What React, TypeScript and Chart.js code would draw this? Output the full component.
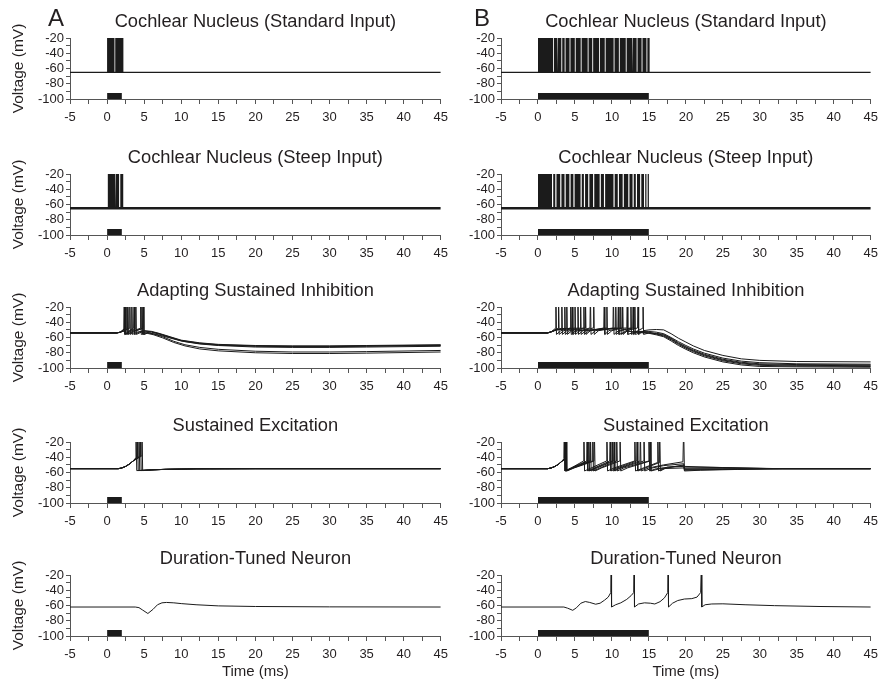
import { useEffect, useRef } from "react";
import { Chart, registerables } from "chart.js";
Chart.register(...registerables);

type Pt = [number, number];

// ---------- axes ----------
const xMin = -5;
const xMax = 45;
const xStep = 2.5;
const xLabelEvery = 5;
const yMin = -100;
const yMax = -20;
const yStep = 10;
const yLabelEvery = 20;

const panelTitles = [
  "Cochlear Nucleus (Standard Input)",
  "Cochlear Nucleus (Steep Input)",
  "Adapting Sustained Inhibition",
  "Sustained Excitation",
  "Duration-Tuned Neuron",
];
const columnLetters = ["A", "B"];
const yAxisTitle = "Voltage (mV)";
const xAxisTitle = "Time (ms)";

// ---------- stimulus ----------
const stimA = [0, 2];
const stimB = [0, 15];
const stimLevel = -92;

// ---------- cochlear nucleus (firing intervals, ms) ----------
const cnRest = -65;
const cnPeak = -20;
const cnStdA: number[][] = [[0, 1.0], [1.1, 2.2]];
const cnStdB: number[][] = [
  [0, 2.05], [2.17, 2.58], [2.7, 3.16], [3.28, 3.61], [3.73, 4.27], [4.39, 4.98],
  [5.1, 5.78], [5.9, 6.72], [6.84, 7.34], [7.46, 8.27], [8.39, 9.03], [9.15, 10.23],
  [10.35, 10.94], [11.06, 11.87], [11.99, 12.72], [12.84, 13.34], [13.46, 14.01],
  [14.13, 14.67], [14.79, 15.1],
];
const cnSteepA: number[][] = [[0.1, 1.08], [1.2, 1.62], [1.78, 2.18]];
const cnSteepB: number[][] = [
  [0, 1.9], [2.06, 2.34], [2.5, 3.01], [3.17, 3.59], [3.75, 4.25], [4.41, 4.79],
  [4.95, 5.76], [5.92, 6.21], [6.37, 6.79], [6.95, 7.45], [7.61, 8.34], [8.5, 8.92],
  [9.08, 10.21], [10.37, 10.79], [10.95, 11.45], [11.61, 12.21], [12.37, 12.79],
  [12.95, 13.23], [13.39, 13.81], [13.97, 14.34], [14.5, 14.67], [14.83, 15.0],
];

// ---------- adapting sustained inhibition ----------
const asiA1: Pt[] = [[-5,-54],[1.3,-54],[1.8,-53],[2.25,-49],[2.31,0],[2.39,-56],[2.9,-52],[3.58,-48],[3.64,0],[3.72,-56],[4.3,-53],[5,-51],[6,-52],[7,-54.5],[8.5,-59],[10,-63.5],[12.5,-67],[15,-69],[20,-70.5],[25,-71],[30,-71],[35,-70.5],[45,-69.5]];
const asiA2: Pt[] = [[-5,-54],[1.3,-54],[1.8,-53],[2.3,-51],[2.61,-48],[2.67,0],[2.75,-56],[3.3,-52],[4.47,-48],[4.53,0],[4.61,-56],[5.2,-53],[6,-53],[7,-55.5],[8.5,-60],[10,-64.5],[12.5,-68],[15,-70],[20,-71.5],[25,-72],[30,-72],[35,-71.5],[45,-70.5]];
const asiA3: Pt[] = [[-5,-54],[1.3,-54],[1.8,-53],[2.4,-51],[3.0,-48],[3.06,0],[3.14,-56],[3.7,-52],[4.83,-48],[4.89,0],[4.97,-56],[5.5,-54],[6.5,-55.5],[7.5,-58],[9,-62],[10.5,-65.5],[12.5,-68.5],[15,-70.5],[20,-72.5],[25,-73],[30,-73],[35,-72.5],[45,-71.5]];
const asiA4: Pt[] = [[-5,-54],[1.3,-54],[1.8,-53],[2.34,-48.5],[2.4,0],[2.48,-56],[3.0,-52],[3.27,-49],[3.33,0],[3.41,-56],[4.0,-53],[5,-51.5],[6,-52.5],[7,-55],[8.5,-59.5],[10,-64],[12.5,-67.5],[15,-69.5],[20,-71],[25,-71.5],[30,-71.5],[35,-71],[45,-70]];
const asiA5: Pt[] = [[-5,-54],[1.3,-54],[1.8,-53],[2.44,-48.5],[2.5,0],[2.58,-56],[3.1,-52],[3.81,-48.5],[3.87,0],[3.95,-56],[4.6,-53],[5.3,-53],[6.3,-55.5],[7.5,-59],[9,-65],[10.5,-69.5],[12.5,-73],[15,-75.5],[20,-78],[25,-79],[30,-79],[35,-78.5],[45,-77]];
const asiA6: Pt[] = [[-5,-54],[1.3,-54],[1.8,-53],[2.4,-51],[2.74,-48.5],[2.8,0],[2.88,-56],[3.5,-52],[4.64,-48.5],[4.7,0],[4.78,-56],[5.4,-54.5],[6.3,-56.5],[7.5,-60.5],[9,-66.5],[10.5,-71],[12.5,-75],[15,-77.5],[20,-80],[25,-81],[30,-81],[35,-80.5],[45,-79]];

const asiB1: Pt[] = [[-5,-54],[1.3,-54],[1.8,-52.5],[2.36,-48],[2.42,0],[2.5,-56],[3.1,-51],[4.36,-47.5],[4.42,0],[4.5,-56],[5.1,-51],[6.36,-47.5],[6.42,0],[6.5,-56],[7.1,-51],[8.9,-47.5],[8.96,0],[9.04,-56],[9.6,-51],[11.12,-47.5],[11.18,0],[11.26,-56],[11.9,-51],[13.47,-47.5],[13.53,0],[13.61,-56],[14.3,-51],[15,-50],[16,-49.5],[17,-50],[18,-55],[19,-61],[20,-66],[21,-71],[22.5,-77],[25,-83.5],[27.5,-88],[30,-90],[35,-91.5],[45,-92]];
const asiB2: Pt[] = [[-5,-54],[1.3,-54],[1.8,-52.5],[2.3,-50],[2.72,-48],[2.78,0],[2.86,-56],[3.5,-51],[4.94,-47.5],[5.0,0],[5.08,-56],[5.7,-51],[7.03,-47.5],[7.09,0],[7.17,-56],[7.8,-51],[10.14,-47.5],[10.2,0],[10.28,-56],[10.9,-51],[12.5,-47.5],[12.56,0],[12.64,-56],[13.3,-52],[15,-52],[16,-53],[17,-55],[18,-60],[19,-65.5],[20,-70.5],[21,-75],[22.5,-80.5],[25,-87],[27.5,-91],[30,-93],[35,-94.5],[45,-95]];
const asiB3: Pt[] = [[-5,-54],[1.3,-54],[1.8,-52.5],[2.4,-50],[3.16,-48],[3.22,0],[3.3,-56],[3.9,-51],[5.34,-47.5],[5.4,0],[5.48,-56],[6.1,-51],[7.47,-47.5],[7.53,0],[7.61,-56],[8.2,-51],[10.45,-47.5],[10.51,0],[10.59,-56],[11.2,-51],[12.81,-47.5],[12.87,0],[12.95,-56],[13.5,-51],[14.14,-48],[14.2,0],[14.28,-56],[15,-54],[16,-54.5],[17,-56],[18,-61],[19,-67],[20,-72],[21,-76.5],[22.5,-82],[25,-88.5],[27.5,-92.5],[30,-94.5],[35,-95.5],[45,-96]];
const asiB4: Pt[] = [[-5,-54],[1.3,-54],[1.8,-52.5],[2.5,-50],[3.56,-48],[3.62,0],[3.7,-56],[4.3,-51],[5.7,-47.5],[5.76,0],[5.84,-56],[6.5,-51],[9.25,-47.5],[9.31,0],[9.39,-56],[10,-51],[11.38,-47.5],[11.44,0],[11.52,-56],[12.1,-51],[13.03,-48],[13.09,0],[13.17,-56],[14,-53],[15,-54],[16,-55],[17,-57],[18,-62],[19,-68],[20,-73],[21,-77.5],[22.5,-83],[25,-89.5],[27.5,-93.5],[30,-95.5],[35,-96.5],[45,-97]];
const asiB5: Pt[] = [[-5,-54],[1.3,-54],[1.8,-52.5],[2.5,-50],[3.83,-48],[3.89,0],[3.97,-56],[4.6,-51],[6.14,-47.5],[6.2,0],[6.28,-56],[6.9,-51],[10.81,-47.5],[10.87,0],[10.95,-56],[12,-52],[15,-53],[16,-55.5],[17,-58],[18,-63],[19,-69],[20,-74],[21,-78.5],[22.5,-84],[25,-90.5],[27.5,-94.5],[30,-96.5],[35,-97.5],[45,-98]];
const asiB6: Pt[] = [[-5,-54],[1.3,-54],[1.8,-52.5],[2.5,-50],[4.58,-48],[4.64,0],[4.72,-56],[5.4,-51],[12.01,-47.5],[12.07,0],[12.15,-56],[13,-53],[15,-54.5],[16,-56.5],[17,-59],[18,-64.5],[19,-70.5],[20,-75.5],[21,-80],[22.5,-85.5],[25,-92],[27.5,-96],[30,-98],[35,-98.5],[45,-99]];

// ---------- sustained excitation ----------
const seA1: Pt[] = [[-5,-55],[1.5,-55],[2,-54],[2.5,-52],[3,-49],[3.5,-45],[3.85,-41],[3.9,0],[4.0,-57.5],[5,-57],[6,-56.5],[8,-55.8],[12,-55.2],[20,-55],[45,-55]];
const seA2: Pt[] = [[-5,-55],[1.5,-55],[2,-54],[2.5,-52],[3,-49],[3.5,-45],[4.05,-40],[4.1,0],[4.2,-57.5],[5,-57],[6,-56.5],[8,-55.8],[12,-55.2],[20,-55],[45,-55]];
const seA3: Pt[] = [[-5,-55],[1.5,-55],[2,-54],[2.5,-52],[3,-49],[3.5,-45],[4.25,-39.5],[4.3,0],[4.4,-57.5],[5.2,-57],[6,-56.5],[8,-55.8],[12,-55.2],[20,-55],[45,-55]];
const seA4: Pt[] = [[-5,-55],[1.5,-55],[2,-54],[2.5,-52],[3,-49],[3.5,-45],[4.45,-39],[4.5,0],[4.6,-57.5],[5.4,-57],[6.2,-56.5],[8,-55.8],[12,-55.2],[20,-55],[45,-55]];
const seA5: Pt[] = [[-5,-55],[1.5,-55],[2,-54],[2.5,-52],[3,-49],[3.5,-45],[4.65,-38.5],[4.7,0],[4.8,-57.5],[5.6,-57],[6.4,-56.5],[8,-55.8],[12,-55.2],[20,-55],[45,-55]];

const seB1: Pt[] = [[-5,-55],[1.3,-55],[1.8,-54],[2.3,-52],[2.8,-49],[3.2,-45.5],[3.5,-42],[3.55,0],[3.65,-58],[4.5,-54],[6.15,-45],[6.2,0],[6.3,-58],[7.2,-54],[9.25,-45],[9.31,0],[9.41,-58],[10.3,-54],[13.03,-45],[13.09,0],[13.19,-58],[14,-55],[16.15,-47],[16.2,0],[16.3,-58],[17,-55],[19.7,-50],[19.8,-56],[25,-55.5],[33,-55],[45,-55]];
const seB2: Pt[] = [[-5,-55],[1.3,-55],[1.8,-54],[2.3,-52],[2.8,-49],[3.2,-45.5],[3.55,-42],[3.6,0],[3.7,-58],[4.5,-54],[6.59,-45],[6.64,0],[6.74,-58],[7.6,-54],[9.7,-45],[9.76,0],[9.86,-58],[10.7,-54],[13.35,-45],[13.4,0],[13.5,-58],[14.3,-55],[16.4,-47],[16.45,0],[16.55,-58],[17.5,-53],[19.7,-52],[19.8,-57],[25,-56],[33,-55],[45,-55]];
const seB3: Pt[] = [[-5,-55],[1.3,-55],[1.8,-54],[2.3,-52],[2.8,-49],[3.2,-45.5],[3.6,-42],[3.65,0],[3.75,-58],[4.6,-54],[6.82,-45],[6.87,0],[6.97,-58],[7.8,-54],[10.02,-45],[10.07,0],[10.17,-58],[11,-54],[13.79,-45],[13.84,0],[13.94,-58],[15,-54],[17,-50],[19.6,-46],[19.7,0],[19.8,-58],[22,-57],[27,-56],[33,-55],[45,-55]];
const seB4: Pt[] = [[-5,-55],[1.3,-55],[1.8,-54],[2.3,-52],[2.8,-49],[3.2,-45.5],[3.65,-42],[3.7,0],[3.8,-58],[4.7,-54],[7.04,-45],[7.09,0],[7.19,-58],[8,-54],[10.24,-45],[10.29,0],[10.39,-58],[11.2,-54],[14.28,-45],[14.33,0],[14.43,-58],[15.5,-54],[17,-51],[19.7,-48.5],[19.8,-53],[25,-53.5],[32,-55],[45,-55]];
const seB5: Pt[] = [[-5,-55],[1.3,-55],[1.8,-54],[2.3,-52],[2.8,-49],[3.2,-45.5],[3.7,-42],[3.75,0],[3.85,-58],[4.8,-54],[7.35,-45],[7.4,0],[7.5,-58],[8.4,-54],[10.59,-45],[10.64,0],[10.74,-58],[11.6,-54],[14.95,-45],[15.0,0],[15.1,-58],[16,-55],[18,-52.5],[19.7,-51],[19.8,-52],[25,-53.5],[33,-55],[45,-55]];
const seB6: Pt[] = [[-5,-55],[1.3,-55],[1.8,-54],[2.3,-52],[2.8,-49],[3.2,-45.5],[3.75,-42],[3.8,0],[3.9,-58],[4.9,-54],[7.57,-45],[7.62,0],[7.72,-58],[8.6,-54],[11.04,-45],[11.09,0],[11.19,-58],[12.1,-54],[15.13,-45],[15.18,0],[15.28,-58],[16.5,-55],[19.7,-54],[20,-55],[45,-55]];

// ---------- duration-tuned neuron ----------
const dtnA: Pt[] = [[-5,-62],[3.8,-62],[4.3,-62.8],[4.8,-66],[5.5,-70.5],[6.2,-65],[6.8,-59],[7.4,-56.5],[8,-56],[9,-56.5],[10,-57.5],[12,-59],[15,-60.5],[20,-61.3],[30,-61.8],[45,-62]];
const dtnB: Pt[] = [[-5,-62],[3.5,-62],[4.0,-63.5],[4.7,-66.3],[5.2,-63],[5.8,-57],[6.4,-54.8],[7.0,-56],[7.8,-58.3],[8.4,-57],[9.0,-53],[9.5,-49],[9.85,-43],[9.9,0],[9.95,-62],[10.5,-59],[11.2,-56.5],[12.0,-52],[12.6,-47],[12.95,-43],[13.0,0],[13.05,-62],[13.6,-58],[14.4,-56.5],[15.2,-57],[15.8,-58],[16.5,-55],[17.1,-50],[17.55,-43],[17.6,0],[17.65,-62],[18.2,-57],[18.9,-53.5],[19.8,-51.5],[20.8,-51],[21.5,-49],[22.0,-43],[22.1,0],[22.15,-62],[22.6,-59],[23.5,-58],[25,-57.8],[28,-59],[32,-60.2],[38,-61.3],[45,-62]];

// ---------- styling ----------
const FONT = "'Liberation Sans', Arial, Helvetica, sans-serif";
const INK = "#1b1b1b";
const TEXT = "#231f20";
const AXIS = "#555555";

const colLeft = [0, 431];
const areaW = [376, 375];
const rowTop = [38, 174, 307, 442, 575];
const AREA_H = 61;
const Y_W = 70;
const TITLE_H = 38;
const PAD_R = 8;

const toXY = (pts: Pt[]) => pts.map(([x, y]) => ({ x, y }));

function traceDs(pts: Pt[], width = 1) {
  return { data: toXY(pts), borderColor: INK, borderWidth: width, fill: false, pointRadius: 0, tension: 0, clip: 0 };
}
function stimDs(stim: number[]) {
  return {
    data: [{ x: stim[0], y: stimLevel }, { x: stim[1], y: stimLevel }],
    borderColor: "rgba(0,0,0,0)", borderWidth: 0, backgroundColor: INK,
    fill: { value: yMin }, pointRadius: 0, tension: 0, clip: 0,
  };
}
function burstDs(bursts: number[][]) {
  const pts: { x: number; y: number }[] = [{ x: xMin, y: cnRest }];
  for (const [a, b] of bursts) {
    pts.push({ x: a, y: cnRest }, { x: a, y: cnPeak }, { x: b, y: cnPeak }, { x: b, y: cnRest });
  }
  pts.push({ x: xMax, y: cnRest });
  return {
    data: pts, borderColor: "rgba(0,0,0,0)", borderWidth: 0, backgroundColor: INK,
    fill: { value: cnRest }, pointRadius: 0, tension: 0, clip: 0,
  };
}
function restDs(width: number) {
  return traceDs([[xMin, cnRest], [xMax, cnRest]], width);
}

type Spec = { col: number; row: number; datasets: any[] };

const specs: Spec[] = [
  { col: 0, row: 0, datasets: [stimDs(stimA), burstDs(cnStdA), restDs(1.3)] },
  { col: 1, row: 0, datasets: [stimDs(stimB), burstDs(cnStdB), restDs(1.3)] },
  { col: 0, row: 1, datasets: [stimDs(stimA), burstDs(cnSteepA), restDs(2.6)] },
  { col: 1, row: 1, datasets: [stimDs(stimB), burstDs(cnSteepB), restDs(2.6)] },
  { col: 0, row: 2, datasets: [stimDs(stimA), ...[asiA1, asiA2, asiA3, asiA4, asiA5, asiA6].map((t) => traceDs(t))] },
  { col: 1, row: 2, datasets: [stimDs(stimB), ...[asiB1, asiB2, asiB3, asiB4, asiB5, asiB6].map((t) => traceDs(t))] },
  { col: 0, row: 3, datasets: [stimDs(stimA), ...[seA1, seA2, seA3, seA4, seA5].map((t) => traceDs(t))] },
  { col: 1, row: 3, datasets: [stimDs(stimB), ...[seB1, seB2, seB3, seB4, seB5, seB6].map((t) => traceDs(t))] },
  { col: 0, row: 4, datasets: [stimDs(stimA), traceDs(dtnA)] },
  { col: 1, row: 4, datasets: [stimDs(stimB), traceDs(dtnB)] },
];

function Panel({ spec }: { spec: Spec }) {
  const ref = useRef<HTMLCanvasElement>(null);
  const last = spec.row === 4;
  const xH = last ? 45 : 30;
  const W = Y_W + areaW[spec.col] + PAD_R;
  const H = TITLE_H + AREA_H + xH;
  const left = colLeft[spec.col];
  const top = rowTop[spec.row] - TITLE_H;

  useEffect(() => {
    if (!ref.current) return;
    const tickFont = { family: FONT, size: 13 };
    const chart = new Chart(ref.current, {
      type: "line",
      data: { datasets: spec.datasets },
      options: {
        animation: false,
        responsive: false,
        events: [],
        layout: { padding: { left: 0, right: PAD_R, top: 0, bottom: 0 } },
        plugins: {
          legend: { display: false },
          tooltip: { enabled: false },
          title: {
            display: true,
            text: panelTitles[spec.row],
            fullSize: false,
            color: TEXT,
            font: { family: FONT, size: 18.3, weight: "normal", lineHeight: 1.2 },
            padding: { top: 10.5, bottom: 5.54 },
          },
        },
        scales: {
          x: {
            type: "linear",
            min: xMin,
            max: xMax,
            afterFit: (s: any) => { s.height = xH; },
            ticks: {
              stepSize: xStep,
              autoSkip: false,
              maxRotation: 0,
              padding: 6,
              color: TEXT,
              font: tickFont,
              callback: (v: any) => (Math.abs(Number(v) % xLabelEvery) < 1e-6 ? String(v) : ""),
            },
            grid: { drawOnChartArea: false, drawTicks: true, tickLength: 5, color: AXIS, lineWidth: 1 },
            border: { display: true, color: AXIS, width: 1 },
            title: {
              display: last,
              text: xAxisTitle,
              color: TEXT,
              font: { family: FONT, size: 15, lineHeight: 1.2 },
              padding: { top: 0, bottom: 0 },
            },
          },
          y: {
            type: "linear",
            min: yMin,
            max: yMax,
            afterFit: (s: any) => { s.width = Y_W; },
            ticks: {
              stepSize: yStep,
              autoSkip: false,
              padding: 2,
              color: TEXT,
              font: tickFont,
              callback: (v: any) => (Math.abs(Number(v) % yLabelEvery) < 1e-6 ? String(v) : ""),
            },
            grid: { drawOnChartArea: false, drawTicks: true, tickLength: 4, color: AXIS, lineWidth: 1 },
            border: { display: true, color: AXIS, width: 1 },
            title: {
              display: spec.col === 0,
              text: yAxisTitle,
              color: TEXT,
              font: { family: FONT, size: 15.5, lineHeight: 1.2 },
              padding: { top: 9.5, bottom: 0 },
            },
          },
        },
      } as any,
    });
    return () => chart.destroy();
  }, [spec]);

  return (
    <canvas
      ref={ref}
      width={W}
      height={H}
      style={{ position: "absolute", left, top, width: W, height: H }}
    />
  );
}

export default function App() {
  return (
    <div
      style={{
        position: "absolute",
        left: 0,
        top: 0,
        width: 882,
        height: 682,
        overflow: "hidden",
        background: "#ffffff",
      }}
    >
      {specs.map((s, i) => (
        <Panel key={i} spec={s} />
      ))}
      {columnLetters.map((c, i) => (
        <div
          key={c}
          style={{
            position: "absolute",
            left: i === 0 ? 48 : 474,
            top: 6,
            fontFamily: FONT,
            fontSize: 24,
            lineHeight: "24px",
            color: TEXT,
          }}
        >
          {c}
        </div>
      ))}
    </div>
  );
}
